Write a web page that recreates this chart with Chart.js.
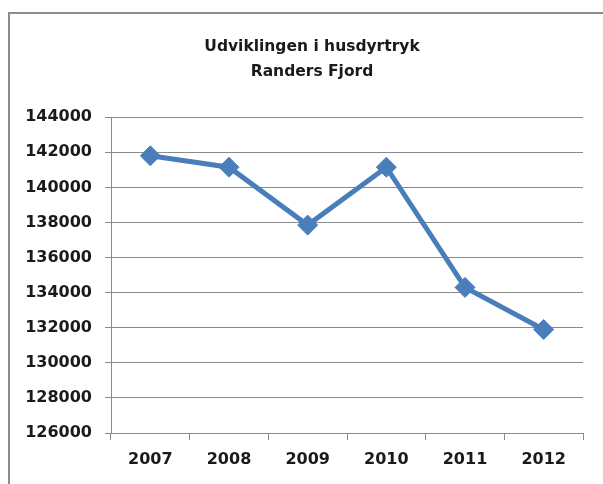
<!DOCTYPE html>
<html>
<head>
<meta charset="utf-8">
<script src="https://cdn.jsdelivr.net/npm/chart.js@4.4.0/dist/chart.umd.min.js"></script>
<style>
  html, body { margin: 0; padding: 0; background: #fff; overflow: hidden; }
  #frame {
    position: absolute; left: 8px; top: 12px;
    border-left: 2px solid #8c8c8c; border-top: 2px solid #8c8c8c;
    width: 604px; height: 470px;
  }
</style>
</head>
<body>
<div id="frame"><canvas id="lineChart" width="604" height="470"></canvas></div>
<script>
// --- Data ---
const years = ['2007', '2008', '2009', '2010', '2011', '2012'];
const husdyrtryk = [141800, 141150, 137850, 141150, 134300, 131900];
const yMin = 126000;
const yMax = 144000;
const yStep = 2000;
const titleLines = ['Udviklingen i husdyrtryk', 'Randers Fjord'];

const blue = '#4a7ebb';
const gridGray = '#8a8a8a';
const textColor = '#1a1a1a';

document.addEventListener('DOMContentLoaded', function() {
    const ctx = document.getElementById('lineChart');
    new Chart(ctx.getContext('2d'), {
        type: 'line',
        data: {
            labels: years,
            datasets: [{
                data: husdyrtryk,
                borderColor: blue,
                backgroundColor: blue,
                borderWidth: 5,
                pointStyle: 'rectRot',
                pointRadius: 10,
                pointBorderWidth: 1,
                pointBackgroundColor: blue,
                pointBorderColor: blue,
                tension: 0
            }]
        },
        options: {
            responsive: false,
            animation: false,
            layout: { padding: { left: 0, right: 0, top: 0, bottom: 11 } },
            scales: {
                x: {
                    offset: true,
                    grid: {
                        offset: true,
                        drawOnChartArea: false,
                        drawTicks: true,
                        tickLength: 7,
                        color: gridGray
                    },
                    border: { color: gridGray, width: 1 },
                    ticks: {
                        color: textColor,
                        padding: 10,
                        font: { family: 'DejaVu Sans', size: 16, weight: 'bold' }
                    },
                    afterFit: function(scale) { scale.height = 40; }
                },
                y: {
                    min: yMin,
                    max: yMax,
                    grid: { color: gridGray, tickLength: 6 },
                    border: { color: gridGray, width: 1 },
                    ticks: {
                        stepSize: yStep,
                        color: textColor,
                        padding: 13,
                        font: { family: 'DejaVu Sans', size: 16, weight: 'bold' },
                        callback: function(v) { return String(v); }
                    },
                    afterFit: function(scale) { scale.width = 101; }
                },
                // empty right-hand axis: only reserves the blank margin so the title stays centred on the frame
                spacer: {
                    position: 'right',
                    grid: { display: false },
                    border: { display: false },
                    ticks: { display: false },
                    afterFit: function(scale) { scale.width = 31; }
                }
            },
            plugins: {
                legend: { display: false },
                tooltip: { enabled: false },
                title: {
                    display: true,
                    text: titleLines,
                    color: textColor,
                    font: { family: 'DejaVu Sans', size: 15.5, weight: 'bold', lineHeight: 1.62 },
                    padding: { top: 20, bottom: 33 }
                }
            }
        }
    });
});
</script>
</body>
</html>
